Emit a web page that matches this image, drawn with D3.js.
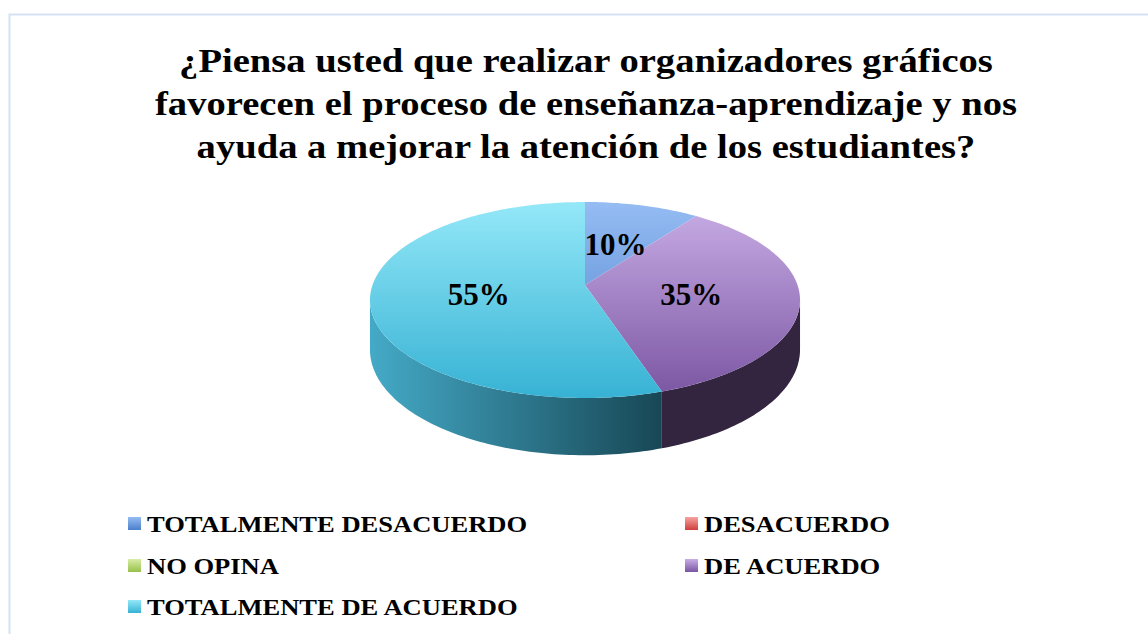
<!doctype html>
<html lang="es">
<head>
<meta charset="utf-8">
<title>Organizadores gráficos</title>
<script src="https://cdn.jsdelivr.net/npm/d3@7"></script>
<style>
  body { margin: 0; background: #fff; }
  text { font-family: "Liberation Serif", "Times New Roman", serif; font-weight: bold; }
</style>
</head>
<body>
<script>
// data
var categories = ["TOTALMENTE DESACUERDO", "DESACUERDO", "NO OPINA", "DE ACUERDO", "TOTALMENTE DE ACUERDO"];
var values = [10, 0, 0, 35, 55];
var titleLines = [
  "¿Piensa usted que realizar organizadores gráficos",
  "favorecen el proceso de enseñanza-aprendizaje y nos",
  "ayuda a mejorar la atención de los estudiantes?"
];
// [light top, dark bottom] for the top faces, [side left, side right] for the walls
var topColors = [["#95bcf3", "#4a7fcb"], ["#f7a3a1", "#cf3f3b"], ["#d8eda4", "#98c04c"], ["#c9aee6", "#7a55a2"], ["#94e8f8", "#37b2d4"]];
var sideColors = [["#3a64a4", "#22406e"], ["#a03030", "#6a1f1f"], ["#7a9a3a", "#506626"], ["#3d2b55", "#33243f"], ["#44a9c6", "#174654"]];

var W = 1148, H = 634;
// perspective pie: apex of the top face, half axes, perspective strength, wall height
var cx = 585, cy = 285, A = 212.5, B = 95.7, k = 0.153, depth = 48.5;

var svg = d3.select("body").append("svg")
    .attr("width", W)
    .attr("height", H);

var defs = svg.append("defs");

// border of the chart area
svg.append("path")
    .attr("d", "M9.5," + H + "V14.5H" + W)
    .attr("fill", "none")
    .attr("stroke", "#d5e2f3")
    .attr("stroke-width", 2);

// title
svg.append("g").selectAll("text")
    .data(titleLines)
    .enter().append("text")
    .attr("transform", function(d, i) { return "translate(586," + (72 + i * 43) + ") scale(1.17,1)"; })
    .attr("text-anchor", "middle")
    .attr("font-size", 33)
    .text(function(d) { return d; });

// projection of a point on the (unit) pie disc, angle from the top, clockwise
function proj(a, r, drop) {
  var u = r * Math.sin(a), v = -r * Math.cos(a);
  var w = 1 - k * v;
  return [cx + A * u / w, cy + B * v / w + (drop ? depth / w : 0)];
}
var yTop = proj(0, 1)[1], yBot = proj(Math.PI, 1)[1];

// gradients
categories.forEach(function(c, i) {
  var g = defs.append("linearGradient")
      .attr("id", "top" + i)
      .attr("gradientUnits", "userSpaceOnUse")
      .attr("x1", 0).attr("x2", 0)
      .attr("y1", yTop).attr("y2", yBot);
  g.append("stop").attr("offset", 0).attr("stop-color", topColors[i][0]);
  g.append("stop").attr("offset", 1).attr("stop-color", topColors[i][1]);

  var s = defs.append("linearGradient")
      .attr("id", "side" + i)
      .attr("gradientUnits", "userSpaceOnUse")
      .attr("x1", cx - A).attr("x2", cx + 80)
      .attr("y1", 0).attr("y2", 0);
  s.append("stop").attr("offset", 0).attr("stop-color", sideColors[i][0]);
  s.append("stop").attr("offset", 1).attr("stop-color", sideColors[i][1]);

  var l = defs.append("linearGradient")
      .attr("id", "leg" + i)
      .attr("x1", 0).attr("x2", 0).attr("y1", 0).attr("y2", 1);
  l.append("stop").attr("offset", 0).attr("stop-color", topColors[i][0]);
  l.append("stop").attr("offset", 1).attr("stop-color", topColors[i][1]);
});

var pie = d3.pie().sort(null).value(function(d) { return d; });
var arcs = pie(values);

function arcPoints(a0, a1, drop) {
  var n = Math.max(2, Math.ceil(Math.abs(a1 - a0) / 0.02));
  return d3.range(n + 1).map(function(j) { return proj(a0 + (a1 - a0) * j / n, 1, drop); });
}
var line = d3.line();

// side walls, only the part facing the viewer
var visA0 = Math.acos(-k), visA1 = 2 * Math.PI - Math.acos(-k);
var sides = svg.append("g");
arcs.forEach(function(d, i) {
  var a0 = Math.max(d.startAngle, visA0);
  var a1 = Math.min(d.endAngle, visA1);
  if (a1 <= a0) return;
  var top = arcPoints(a0, a1, false);
  var bot = arcPoints(a1, a0, true);
  sides.append("path")
      .attr("d", line(top.concat(bot)) + "Z")
      .attr("fill", "url(#side" + i + ")");
});

// top faces
var tops = svg.append("g");
arcs.forEach(function(d, i) {
  if (d.endAngle - d.startAngle <= 0) return;
  var p = [[cx, cy]].concat(arcPoints(d.startAngle, d.endAngle, false));
  tops.append("path")
      .attr("d", line(p) + "Z")
      .attr("fill", "url(#top" + i + ")");
});

// percentage labels
arcs.forEach(function(d, i) {
  if (d.value <= 0) return;
  var p = proj((d.startAngle + d.endAngle) / 2, 0.5, false);
  svg.append("text")
      .attr("x", p[0])
      .attr("y", p[1] + 12)
      .attr("text-anchor", "middle")
      .attr("font-size", 31)
      .text(d.value + "%");
});

// legend
var legX = [128, 685], legY = [524, 566, 607];
var leg = svg.append("g").selectAll("g")
    .data(categories)
    .enter().append("g")
    .attr("transform", function(d, i) {
      return "translate(" + legX[i % 2] + "," + legY[Math.floor(i / 2)] + ")";
    });
leg.append("rect")
    .attr("x", 0).attr("y", -7)
    .attr("width", 13).attr("height", 13)
    .attr("fill", function(d, i) { return "url(#leg" + i + ")"; });
leg.append("text")
    .attr("transform", "translate(19,8) scale(1.18,1)")
    .attr("font-size", 22.5)
    .text(function(d) { return d; });
</script>
</body>
</html>
